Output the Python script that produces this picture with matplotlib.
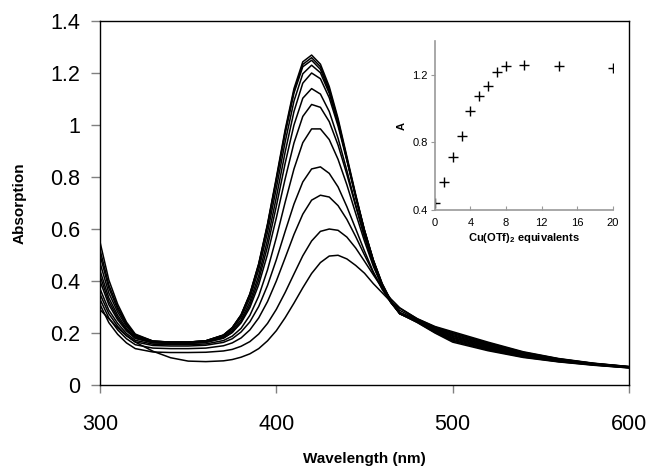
import matplotlib
matplotlib.use("Agg")
import matplotlib.pyplot as plt

plt.rcParams['font.family'] = ['Liberation Sans', 'DejaVu Sans']
plt.rcParams['mathtext.fontset'] = 'custom'
plt.rcParams['mathtext.rm'] = 'Liberation Sans:bold'
plt.rcParams['mathtext.bf'] = 'Liberation Sans:bold'

# wavelength grid (nm), shared by all spectra
wl = [300, 305, 310, 315, 320, 330, 340, 350, 360, 370, 375, 380, 385, 390, 395,
      400, 405, 410, 415, 420, 425, 430, 435, 440, 445, 450, 455, 460, 465,
      470, 480, 490, 500, 520, 540, 560, 580, 600]

# absorption spectra, from 0 to 20 equivalents of Cu(OTf)2
spec_00 = [0.29, 0.255, 0.22, 0.19, 0.165, 0.13, 0.105, 0.092, 0.09, 0.093, 0.098, 0.107, 0.12, 0.14, 0.17,
           0.209, 0.259, 0.315, 0.374, 0.429, 0.471, 0.496, 0.499, 0.485, 0.46, 0.43, 0.39, 0.355, 0.32,
           0.295, 0.255, 0.225, 0.205, 0.165, 0.128, 0.102, 0.084, 0.071]
spec_01 = [0.31, 0.240, 0.195, 0.162, 0.140, 0.127, 0.125, 0.125, 0.126, 0.131, 0.137, 0.149, 0.167, 0.196, 0.237,
           0.291, 0.356, 0.427, 0.497, 0.554, 0.591, 0.60, 0.595, 0.569, 0.527, 0.476, 0.424, 0.373, 0.331,
           0.297, 0.254, 0.223, 0.201, 0.162, 0.126, 0.101, 0.083, 0.071]
spec_02 = [0.33, 0.258, 0.212, 0.178, 0.155, 0.142, 0.14, 0.14, 0.142, 0.151, 0.162, 0.181, 0.212, 0.258, 0.321,
           0.400, 0.489, 0.579, 0.657, 0.711, 0.73, 0.723, 0.690, 0.637, 0.571, 0.500, 0.432, 0.372, 0.323,
           0.287, 0.252, 0.220, 0.198, 0.159, 0.124, 0.100, 0.083, 0.070]
spec_03 = [0.35, 0.274, 0.226, 0.19, 0.166, 0.152, 0.15, 0.15, 0.153, 0.164, 0.178, 0.204, 0.243, 0.302, 0.383,
           0.482, 0.591, 0.696, 0.781, 0.831, 0.839, 0.814, 0.762, 0.686, 0.601, 0.515, 0.435, 0.368, 0.316,
           0.277, 0.251, 0.218, 0.194, 0.156, 0.122, 0.098, 0.082, 0.070]
spec_04 = [0.37, 0.288, 0.237, 0.198, 0.172, 0.157, 0.155, 0.155, 0.158, 0.171, 0.188, 0.218, 0.268, 0.342, 0.443,
           0.567, 0.703, 0.831, 0.932, 0.985, 0.985, 0.944, 0.868, 0.770, 0.660, 0.553, 0.457, 0.379, 0.319,
           0.278, 0.250, 0.216, 0.190, 0.153, 0.120, 0.097, 0.081, 0.069]
spec_05 = [0.40, 0.309, 0.251, 0.208, 0.179, 0.162, 0.16, 0.16, 0.164, 0.180, 0.202, 0.239, 0.298, 0.386, 0.503,
           0.643, 0.793, 0.931, 1.033, 1.079, 1.068, 1.013, 0.923, 0.810, 0.688, 0.570, 0.467, 0.383, 0.320,
           0.277, 0.248, 0.214, 0.187, 0.150, 0.118, 0.096, 0.080, 0.069]
spec_06 = [0.42, 0.321, 0.259, 0.212, 0.181, 0.163, 0.16, 0.16, 0.164, 0.181, 0.203, 0.243, 0.308, 0.404, 0.533,
           0.688, 0.853, 1.000, 1.103, 1.14, 1.119, 1.052, 0.949, 0.825, 0.694, 0.571, 0.464, 0.379, 0.317,
           0.274, 0.247, 0.211, 0.183, 0.147, 0.116, 0.095, 0.080, 0.068]
spec_07 = [0.44, 0.335, 0.268, 0.218, 0.185, 0.166, 0.163, 0.163, 0.167, 0.185, 0.209, 0.251, 0.320, 0.421, 0.558,
           0.722, 0.896, 1.052, 1.161, 1.20, 1.178, 1.105, 0.996, 0.864, 0.724, 0.595, 0.481, 0.391, 0.324,
           0.279, 0.245, 0.209, 0.180, 0.144, 0.114, 0.094, 0.079, 0.068]
spec_08 = [0.47, 0.354, 0.281, 0.226, 0.189, 0.168, 0.165, 0.165, 0.169, 0.189, 0.215, 0.261, 0.334, 0.443, 0.587,
           0.757, 0.935, 1.092, 1.197, 1.230, 1.201, 1.122, 1.007, 0.869, 0.727, 0.594, 0.480, 0.389, 0.323,
           0.277, 0.244, 0.207, 0.176, 0.141, 0.112, 0.093, 0.078, 0.067]
spec_09 = [0.50, 0.373, 0.292, 0.232, 0.192, 0.168, 0.165, 0.165, 0.170, 0.192, 0.220, 0.268, 0.347, 0.461, 0.612,
           0.787, 0.967, 1.123, 1.224, 1.249, 1.214, 1.130, 1.009, 0.867, 0.723, 0.587, 0.474, 0.384, 0.319,
           0.274, 0.243, 0.205, 0.172, 0.138, 0.110, 0.091, 0.078, 0.067]
spec_10 = [0.52, 0.385, 0.300, 0.236, 0.193, 0.169, 0.165, 0.165, 0.170, 0.192, 0.220, 0.269, 0.349, 0.464, 0.616,
           0.792, 0.974, 1.131, 1.233, 1.259, 1.224, 1.139, 1.017, 0.873, 0.728, 0.591, 0.477, 0.386, 0.320,
           0.274, 0.241, 0.202, 0.169, 0.135, 0.108, 0.090, 0.077, 0.066]
spec_11 = [0.55, 0.404, 0.311, 0.242, 0.196, 0.169, 0.165, 0.165, 0.170, 0.192, 0.221, 0.270, 0.351, 0.467, 0.620,
           0.798, 0.982, 1.140, 1.243, 1.269, 1.234, 1.148, 1.025, 0.879, 0.733, 0.595, 0.480, 0.387, 0.321,
           0.275, 0.240, 0.200, 0.165, 0.132, 0.106, 0.089, 0.076, 0.066]
spectra = [spec_00, spec_01, spec_02, spec_03, spec_04, spec_05,
           spec_06, spec_07, spec_08, spec_09, spec_10, spec_11]

# inset: absorbance at the band maximum vs Cu(OTf)2 equivalents
equiv = [0, 1, 2, 3, 4, 5, 6, 7, 8, 10, 14, 20]
a_max = [0.44, 0.565, 0.715, 0.84, 0.985, 1.075, 1.135, 1.22, 1.25, 1.26, 1.255, 1.24]

fig = plt.figure(figsize=(6.52, 4.73), dpi=100)
ax = fig.add_axes([0.1534, 0.186, 0.8113, 0.7696])

for s in spectra:
    ax.plot(wl, s, color='black', lw=1.1)

ax.set_xlim(300, 600)
ax.set_ylim(0, 1.4)
ax.set_xticks([300, 400, 500, 600])
ax.set_yticks([0, 0.2, 0.4, 0.6, 0.8, 1, 1.2, 1.4])
ax.set_yticklabels(['0', '0.2', '0.4', '0.6', '0.8', '1', '1.2', '1.4'])
ax.tick_params(axis='y', direction='out', length=6.5, width=1, color='#808080',
               labelsize=15.5, pad=8)
ax.tick_params(axis='x', direction='out', length=6, width=1, color='#808080',
               labelsize=15.5, pad=15)
for sp in ax.spines.values():
    sp.set_color('black')
    sp.set_linewidth(1.0)
ax.set_xlabel('Wavelength (nm)', fontsize=11, fontweight='bold', labelpad=12)
ax.set_ylabel('Absorption', fontsize=11, fontweight='bold', labelpad=17)

ins = fig.add_axes([0.667, 0.556, 0.273, 0.357])
ins.patch.set_alpha(0)
ins.plot(equiv, a_max, linestyle='none', marker='+', color='black',
         markersize=7, markeredgewidth=1.0)
ins.set_xlim(0, 20)
ins.set_ylim(0.4, 1.4)
ins.set_xticks([0, 4, 8, 12, 16, 20])
ins.set_yticks([0.4, 0.8, 1.2])
ins.spines['top'].set_visible(False)
ins.spines['right'].set_visible(False)
for side in ['left', 'bottom']:
    ins.spines[side].set_color('#999999')
    ins.spines[side].set_linewidth(1.2)
ins.tick_params(axis='y', direction='out', length=3, color='#999999', labelsize=8, pad=2)
ins.tick_params(axis='x', direction='in', length=3, color='#999999', labelsize=8, pad=6)
ins.set_xlabel(r'Cu(OTf)$_2$ equivalents', fontsize=8, fontweight='bold', labelpad=2)
ins.set_ylabel('A', fontsize=8, fontweight='bold', labelpad=4)

fig.savefig('out.png', dpi=100)
